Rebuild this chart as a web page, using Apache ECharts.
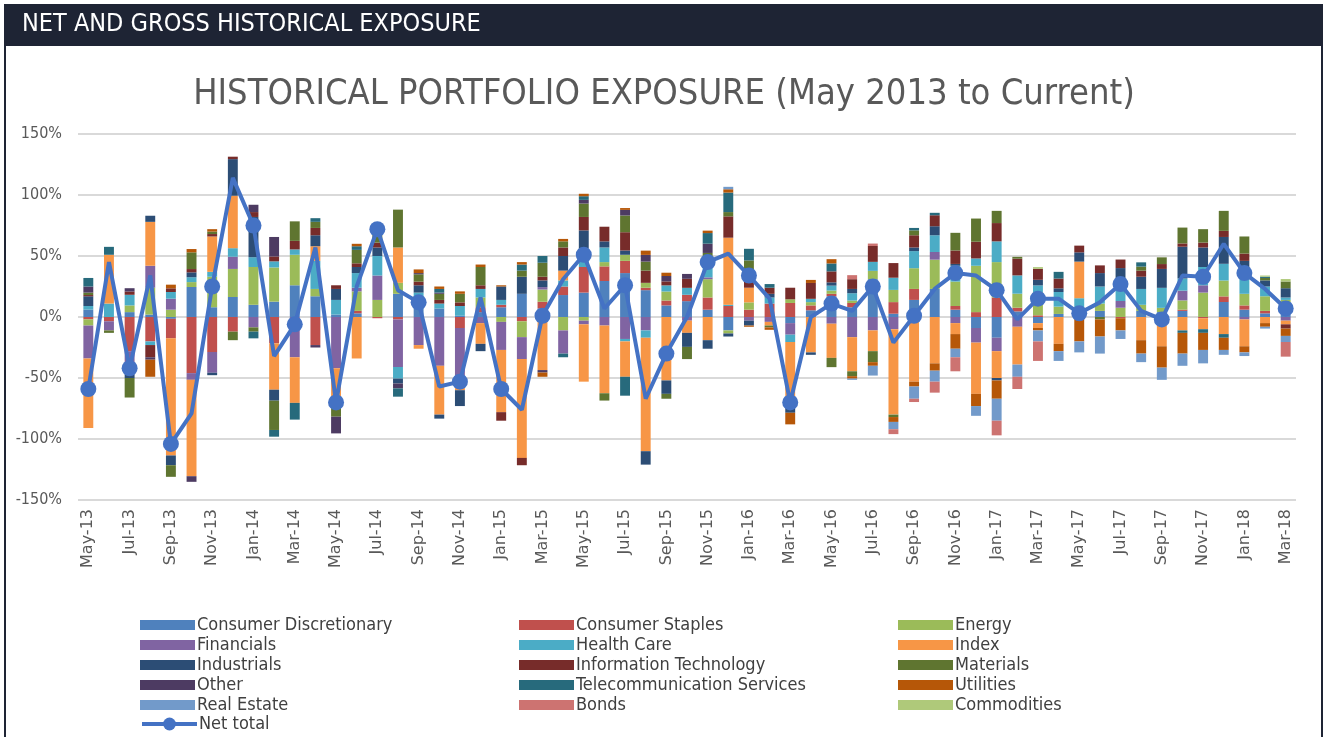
<!DOCTYPE html>
<html>
<head>
<meta charset="utf-8">
<script src="https://cdn.jsdelivr.net/npm/echarts@6/dist/echarts.min.js"></script>
<style>
  html, body { margin: 0; padding: 0; background: #fff; }
  #chart { width: 1328px; height: 737px; }
</style>
</head>
<body>
<div id="chart"></div>
<script>
// 月份
const months = ['May-13','Jun-13','Jul-13','Aug-13','Sep-13','Oct-13','Nov-13','Dec-13',
  'Jan-14','Feb-14','Mar-14','Apr-14','May-14','Jun-14','Jul-14','Aug-14','Sep-14','Oct-14','Nov-14','Dec-14',
  'Jan-15','Feb-15','Mar-15','Apr-15','May-15','Jun-15','Jul-15','Aug-15','Sep-15','Oct-15','Nov-15','Dec-15',
  'Jan-16','Feb-16','Mar-16','Apr-16','May-16','Jun-16','Jul-16','Aug-16','Sep-16','Oct-16','Nov-16','Dec-16',
  'Jan-17','Feb-17','Mar-17','Apr-17','May-17','Jun-17','Jul-17','Aug-17','Sep-17','Oct-17','Nov-17','Dec-17',
  'Jan-18','Feb-18','Mar-18'];

// 各行业敞口 (%)
const consumerDiscretionary = [6,0,4,2,-1.5,24.6,8,16.4,10,12.6,26,17,2,3,0,19,10,7,1,4,8,19,7,18,20,29.5,36,22,9.5,13,6,-11,0,0,-5,5.5,17,8,31,2.7,14,23,6,-9,-17,4.6,-5,2.5,2,5,0,5,4,5,0,12.3,6,3,12];
const consumerStaples = [-2,-3.5,-28,-20,-16,-46,-28.7,-12,0,-21.6,0,-23,0,2,-1,-2,2,0,-9,4,2,-3.5,5.5,7,21,12,10,2,4,5.2,10,9,6,11,11.5,4,2,3.5,0,9.5,9,0,3,4,16,3,1.4,0,0,0,-1,0,0,1,-1,4.6,3.5,2,0];
const energy = [-5,0,5.5,22,6,4,25,23,31,28,25,6,0,16,14,9,5,0,0,8,-4,-13,10,-11,-3,3.5,5,4,7.4,0,15,-2.5,6,0,3,2.7,2.7,2,6.8,10,17,24,20,38,29,11.5,19,6,6,6,7.6,5,3.5,7.6,20,13,9.5,12,2];
const financials = [-27,-7.5,-19,18,9,-5.5,-17,10,-8.5,0,-33,0,-42,3,20,-39,-23,-40,-49,-5,-23,-18,2,-19,-3,-7,-18,-11,0,-3,1.5,0,-3,-4,-9.5,0,-5.5,-16.5,-11,-10,0,6.3,-5,-12,-11,-8,0,0,0,0,5.5,0,0,8,6,0,-2,0,-3];
const healthCare = [3,11,8.7,-3,5.5,4,4,7,8,5,4.4,23,12,12,16,-9.5,3,4,8,7,4,0,0,5,15,12,-2,-6,5,5.7,12,1,0,5,-6,2.7,4,6,7.4,10,14,13.7,13,6,17,15,5.5,12,7.4,14,14,13,16.4,10,15,13.7,13,8,2];
const indexExp = [-57,40,0,36,-96,-79,29,43,0,-38,-37.4,12,-26,-34,0,29,-3,-40,-2,-17,-51,-81,-43.5,8,-47,-55.5,-29,-93,-52,-10,-19,55,12,-3,-46,-29,-28,-28,-17,-70,-53,-38,-9,-42,-22,-31,-4,-22,30,0,0,-19,-24,-11,-9,-14,-22,-5,-3];
const industrials = [8,0,-3,5,-8,4,-2,30,33,-9,0,9,9,5,7,-4,6,-3.3,-13,-6,11,14,5.5,12,15,5,3.5,-11,-11,-11.5,-7,-2.5,-4,3,-12,-2,2.7,3.5,0,0,3,7.4,1.5,0,-2,0,4.6,3,7.6,11,13,10,15.5,26,16,22,14,5,7.6];
const infoTech = [1,0,2.7,-10,3,2.7,2,2,4,4,7,6,3,3,4,0,3,3,3,3,-7,-6,3,7,11,12,15,10,3.3,7.4,0,17.5,15,5,9.5,13,9,8,13,12,10,9,11,13.7,15,13.7,9,8,5.5,6.3,7,5,4,2.7,4,5,6,0,-3.5];
const materials = [2,-2,-16,0,-9.5,13.7,2,-7,-3.5,-24,16,5,-13.7,11,12,31,6,5,7,15,0,5,11.5,5,11,-6,13.7,7.4,-4,-10,8,3.5,7.4,-1.5,0,0,-7.6,-4,-9,-2,4,0,14.5,19,10,1.5,0,0,0,-2,0,3.3,5.5,13,11,16.4,14,2,5.5];
const other = [5,0,2.7,-2,0,-4.6,0,0,6,16,0,-2,-13.7,0,0,-4,1,1,0,0,0,0,-2,0,3,0,4.6,5.5,4.4,4,7.6,0,0,0,0,0,0,0,0,0,0,0,0,0,0,0,0,0,0,0,0,0,0,0,0,0,0,0,0];
const telecom = [7,6.5,0,0,0,0,0,0,-5.5,-5.5,-13.7,3,0,3,0,-6.8,0,3,0,0,0,5,5.5,-3,3,0,-15.5,0,0,0,8.7,16,9.5,3,0,0,6.5,0,0,0,2,2,0,0,0,0,0,5.5,0,0,0,3.5,0,-2,-3,-3,0,1,0];
const utilities = [0,0,0,-14,3,2.7,2,0,0,0,0,0,0,2,0,0,3,2,2,2,1,2,-3.5,2,2,0,1.5,3.5,2.7,0,2,2.7,-1,-2,-9.5,2.5,3.5,-2,-3,-4,-4,-6,-12,-10,-15,0,-2,-6,-20,-14,-10,-11,-17.5,-17,-14,-10,-5,-3,-6];
const realEstate = [0,0,0,0,0,0,0,0,0,0,0,0,0,0,0,0,0,0,0,0,0,0,0,0,0,0,0,0,0,0,0,2,0,0,0,0,0,-1,-8,-6,-10,-9,-7,-8,-18,-10,-9,-8,-9,-14,-7,-7,-10,-10,-11,-4,-3,-1.5,-5];
const bonds = [0,0,0,0,0,0,0,0,0,0,0,0,0,0,0,0,0,0,0,0,0,0,0,0,0,0,0,0,0,0,0,0,0,0,0,0,0,3.3,2,-4,-2.7,-9,-11.5,0,-12,-10,-16,0,0,0,0,0,0,0,0,0,0,0,-12];
const commodities = [0,0,0,0,0,0,0,0,0,0,0,0,0,0,0,0,0,0,0,0,0,0,0,0,0,0,0,0,0,0,0,0,0,0,0,0,0,0,0,0,0,0,0,0,0,0,1.4,0,0,0,0,0,0,0,0,0,0,1,2];
// 净敞口
const netTotal = [-59,45,-42,34,-104,-79,25,114,75,-32,-6,57,-70,25,72,22,12,-57,-53,16,-59,-76,1,31,51,7,26,-67,-30,0,45,52,34,15,-70,0,11,5,25,-21,1,23,36,34,22,-2,15,15,3,12,27,5,-2,34,33,60,36,23,7];

const yTicks = [-150,-100,-50,0,50,100,150];

const sectors = [
  ['Consumer Discretionary', consumerDiscretionary, '#4F81BD'],
  ['Consumer Staples', consumerStaples, '#C0504D'],
  ['Energy', energy, '#9BBB59'],
  ['Financials', financials, '#8064A2'],
  ['Health Care', healthCare, '#4BACC6'],
  ['Index', indexExp, '#F79646'],
  ['Industrials', industrials, '#2C4D75'],
  ['Information Technology', infoTech, '#772C2A'],
  ['Materials', materials, '#5F7530'],
  ['Other', other, '#4D3B62'],
  ['Telecommunication Services', telecom, '#276A7C'],
  ['Utilities', utilities, '#B65708'],
  ['Real Estate', realEstate, '#729ACA'],
  ['Bonds', bonds, '#CD7371'],
  ['Commodities', commodities, '#AFC97A']
];

const font = 'DejaVu Sans Condensed, DejaVu Sans, sans-serif';
const wideFont = 'DejaVu Sans, sans-serif';
const series = sectors.map(s => ({
  name: s[0], type: 'bar', stack: 'exp', barWidth: '48%',
  data: s[1], itemStyle: { color: s[2] }
}));
series.push({
  name: 'Net total', type: 'line', data: netTotal, z: 10,
  symbol: 'circle', symbolSize: 16,
  lineStyle: { color: '#4472C4', width: 4 },
  itemStyle: { color: '#4472C4' }
});

// 图例三列，按行排列
const legendCol = (names, left, top) => ({
  orient: 'vertical', left: left, top: top, padding: 0,
  itemWidth: 55, itemHeight: 10, itemGap: 2,
  textStyle: { fontFamily: font, fontSize: 18, color: '#404040', lineHeight: 18, padding: [0, 0, 0, -3] },
  data: names.map(n => ({ name: n, icon: 'rect' }))
});
const netLegend = {
  orient: 'vertical', left: 140, top: 715, padding: 0,
  itemWidth: 55, itemHeight: 16,
  lineStyle: { width: 4 },
  textStyle: { fontFamily: font, fontSize: 18, color: '#404040', lineHeight: 18, padding: [0, 0, 0, -3] },
  data: ['Net total']
};

const option = {
  animation: false,
  backgroundColor: '#fff',
  title: {
    text: 'HISTORICAL PORTFOLIO EXPOSURE (May 2013 to Current)',
    left: 'center', top: 72,
    textStyle: { fontFamily: font, fontSize: 36, fontWeight: 'normal', color: '#595959' }
  },
  graphic: [
    { type: 'rect', shape: { x: 5, y: 5, width: 1317, height: 760 }, style: { fill: 'none', stroke: '#1e2434', lineWidth: 2 } },
    { type: 'rect', shape: { x: 4, y: 4, width: 1319, height: 42 }, style: { fill: '#1e2434' } },
    { type: 'text', left: 22, top: 12, style: { text: 'NET AND GROSS HISTORICAL EXPOSURE', fill: '#fff', font: '25px ' + font } }
  ],
  legend: [
    legendCol(['Consumer Discretionary','Financials','Industrials','Other','Real Estate'], 140, 616),
    netLegend,
    legendCol(['Consumer Staples','Health Care','Information Technology','Telecommunication Services','Bonds'], 519, 616),
    legendCol(['Energy','Index','Materials','Utilities','Commodities'], 898, 616)
  ],
  grid: { left: 78, right: 32, top: 134, bottom: 237 },
  xAxis: {
    type: 'category', data: months,
    axisLine: { show: false }, axisTick: { show: false },
    axisLabel: { interval: 1, rotate: 90, margin: 9, fontFamily: wideFont, fontSize: 16, color: '#595959' }
  },
  yAxis: {
    type: 'value', min: yTicks[0], max: yTicks[yTicks.length - 1], interval: 50,
    axisLabel: { formatter: '{value}%', fontFamily: font, fontSize: 16, color: '#595959', margin: 16 },
    splitLine: { lineStyle: { color: '#d9d9d9', width: 2 } }
  },
  series: series
};

const myChart = echarts.init(document.getElementById('chart'));
myChart.setOption(option);
</script>
</body>
</html>
